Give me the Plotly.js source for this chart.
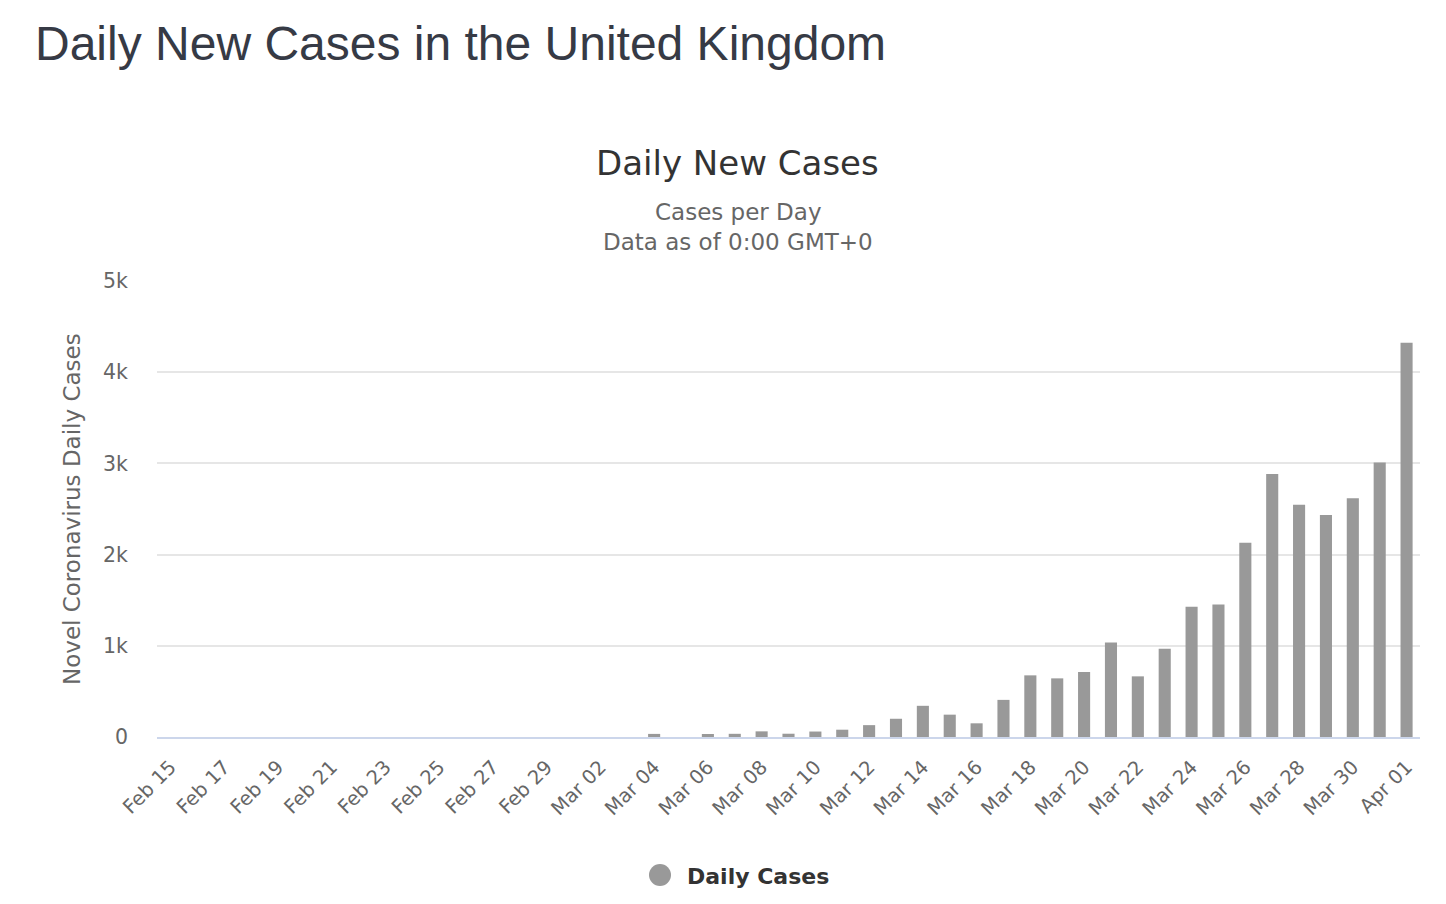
<!DOCTYPE html>
<html>
<head>
<meta charset="utf-8">
<script src="https://cdn.plot.ly/plotly-3.0.1.min.js"></script>
<style>
  html, body { margin: 0; padding: 0; background: #ffffff; }
  #chart { width: 1446px; height: 904px; }
</style>
</head>
<body>
<div id="chart"></div>
<script>
const categories = [
  "Feb 15","Feb 16","Feb 17","Feb 18","Feb 19","Feb 20","Feb 21","Feb 22","Feb 23","Feb 24",
  "Feb 25","Feb 26","Feb 27","Feb 28","Feb 29","Mar 01","Mar 02","Mar 03","Mar 04","Mar 05",
  "Mar 06","Mar 07","Mar 08","Mar 09","Mar 10","Mar 11","Mar 12","Mar 13","Mar 14","Mar 15",
  "Mar 16","Mar 17","Mar 18","Mar 19","Mar 20","Mar 21","Mar 22","Mar 23","Mar 24","Mar 25",
  "Mar 26","Mar 27","Mar 28","Mar 29","Mar 30","Mar 31","Apr 01"
];
const dailyCases = [
  0,0,0,0,0,0,0,0,0,0,
  0,0,0,0,0,0,0,0,34,0,
  33,35,62,36,60,80,130,200,342,245,
  150,407,676,643,714,1035,665,967,1427,1452,
  2129,2885,2546,2433,2619,3009,4324
];
const tickLabels = categories.filter((c, i) => i % 2 === 0);
const yTickVals = [0, 1000, 2000, 3000, 4000, 5000];
const yTickText = ["0", "1k", "2k", "3k", "4k", "5k"];
const seriesName = "Daily Cases";

const textFont = "DejaVu Sans, Open Sans, sans-serif";

// pixel -> paper helpers for the plot area (l=157..1420, t=281..737)
const px = v => (v - 157) / 1263;
const py = v => (737 - v) / 456;

const traces = [
  {
    type: "bar",
    name: seriesName,
    x: categories,
    y: dailyCases,
    marker: { color: "#999999" },
    showlegend: false,
    hoverinfo: "x+y"
  }
];

const layout = {
  width: 1446,
  height: 904,
  paper_bgcolor: "#ffffff",
  plot_bgcolor: "#ffffff",
  margin: { l: 157, r: 26, t: 281, b: 167 },
  bargap: 0.55,
  showlegend: false,
  title: {
    text: "Daily New Cases in the United Kingdom",
    font: { family: "Liberation Sans, Arial, sans-serif", size: 48, color: "#363a45" },
    xref: "container", x: 35 / 1446, xanchor: "left",
    yref: "container", y: 1 - 43 / 904, yanchor: "middle"
  },
  xaxis: {
    type: "category",
    range: [-0.5, categories.length - 0.5],
    tickmode: "array",
    tickvals: tickLabels,
    ticktext: tickLabels,
    tickangle: -45,
    tickfont: { family: textFont, size: 19.5, color: "#666666" },
    ticklabelstandoff: 9,
    showgrid: false,
    showline: true,
    linecolor: "#ccd6eb",
    linewidth: 2,
    ticks: "",
    zeroline: false,
    fixedrange: true
  },
  yaxis: {
    range: [0, 5000],
    tickmode: "array",
    tickvals: yTickVals,
    ticktext: yTickText,
    tickfont: { family: textFont, size: 20.5, color: "#666666" },
    showgrid: true,
    gridcolor: "#e6e6e6",
    gridwidth: 2,
    zeroline: false,
    showline: false,
    ticks: "",
    ticklabelstandoff: 28,
    fixedrange: true
  },
  shapes: [
    {
      type: "circle",
      xref: "paper", yref: "paper",
      x0: px(649), x1: px(671),
      y0: py(864), y1: py(886),
      fillcolor: "#999999",
      line: { width: 0 }
    }
  ],
  annotations: [
    {
      text: "<b>" + seriesName + "</b>",
      xref: "paper", yref: "paper",
      x: px(685), y: py(876),
      xanchor: "left", yanchor: "middle", showarrow: false,
      font: { family: textFont, size: 22, color: "#333333" }
    },
    {
      text: "Daily New Cases",
      xref: "paper", yref: "paper",
      x: px(737), y: py(163),
      xanchor: "center", yanchor: "middle", showarrow: false,
      font: { family: textFont, size: 34, color: "#333333" }
    },
    {
      text: "Cases per Day",
      xref: "paper", yref: "paper",
      x: px(738), y: py(212),
      xanchor: "center", yanchor: "middle", showarrow: false,
      font: { family: textFont, size: 23, color: "#666666" }
    },
    {
      text: "Data as of 0:00 GMT+0",
      xref: "paper", yref: "paper",
      x: px(738), y: py(242),
      xanchor: "center", yanchor: "middle", showarrow: false,
      font: { family: textFont, size: 23, color: "#666666" }
    },
    {
      text: "Novel Coronavirus Daily Cases",
      xref: "paper", yref: "paper",
      x: px(72), y: py(509),
      xanchor: "center", yanchor: "middle", showarrow: false,
      textangle: -90,
      font: { family: textFont, size: 23, color: "#666666" }
    }
  ]
};

Plotly.newPlot("chart", traces, layout, { displayModeBar: false });
</script>
</body>
</html>
